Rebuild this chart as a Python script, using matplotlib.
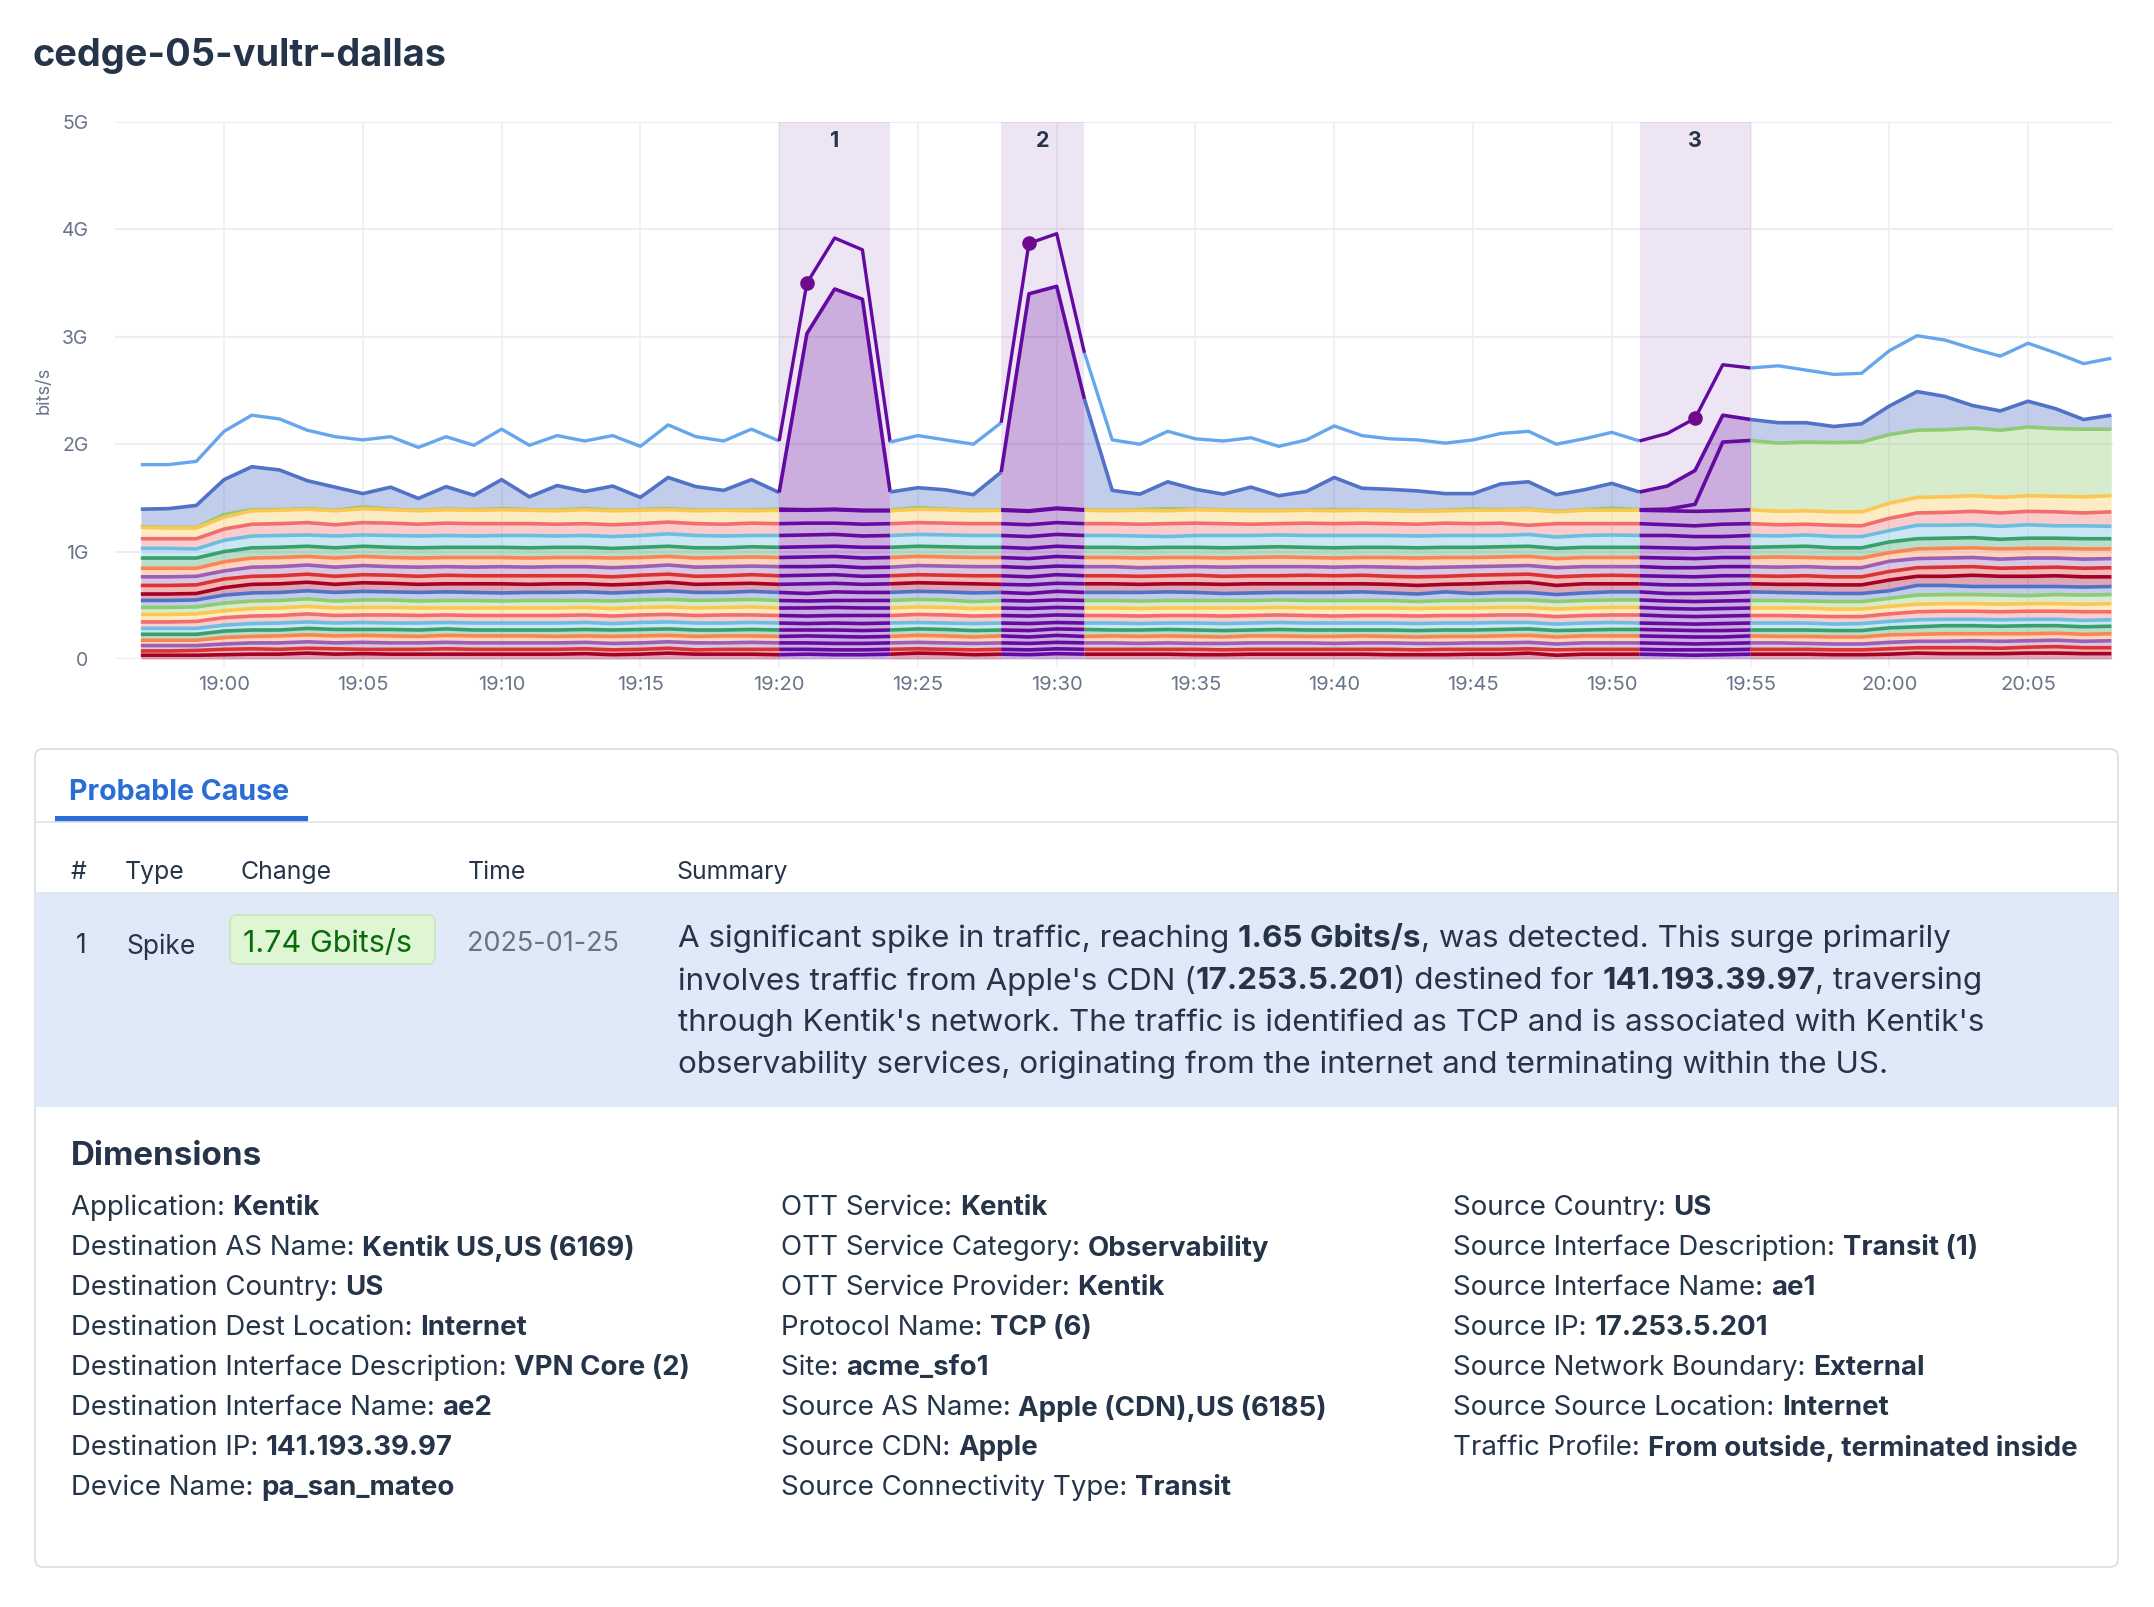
import numpy as np
import matplotlib
matplotlib.use("Agg")
import matplotlib.pyplot as plt
from matplotlib.patches import FancyBboxPatch, Rectangle

plt.rcParams['font.family'] = ['Inter', 'DejaVu Sans']

# minutes relative to 19:00, one point per minute from 18:57 to 20:08
minutes = np.arange(-3, 69)
tick_minutes = [0, 5, 10, 15, 20, 25, 30, 35, 40, 45, 50, 55, 60, 65]
tick_labels = ['19:00', '19:05', '19:10', '19:15', '19:20', '19:25', '19:30',
               '19:35', '19:40', '19:45', '19:50', '19:55', '20:00', '20:05']
y_ticks = [0, 1, 2, 3, 4, 5]
y_labels = ['0', '1G', '2G', '3G', '4G', '5G']

# highlighted anomalies, (start, end) in minutes
windows = [(20, 24), (28, 31), (51, 55)]
window_labels = ['1', '2', '3']
dot_minutes = [21, 29, 53]

# upper line, not stacked
total = [1.81,1.81,1.84,2.12,2.27,2.235,2.13,2.07,2.04,2.07,1.97,2.07,1.99,2.14,1.99,2.08,2.03,2.08,1.98,2.18,2.07,2.03,2.14,2.03,
         3.50,3.92,3.81,2.02,2.08,2.04,2.00,2.20,3.87,3.96,2.85,2.04,2.00,2.12,2.05,2.03,2.06,1.98,2.04,2.17,2.08,2.05,2.04,2.01,
         2.04,2.10,2.12,2.00,2.05,2.11,2.03,2.10,2.24,2.74,2.71,2.73,2.69,2.65,2.66,2.87,3.01,2.97,2.89,2.82,2.94,2.85,2.75,2.80]

# stacked lines, top of each band
top_blue = [1.395,1.40,1.43,1.67,1.79,1.76,1.66,1.60,1.54,1.60,1.495,1.605,1.525,1.67,1.51,1.615,1.56,1.61,1.505,1.69,1.605,1.57,1.67,1.55,
            3.03,3.445,3.35,1.555,1.595,1.575,1.53,1.74,3.40,3.47,2.42,1.57,1.535,1.65,1.58,1.535,1.60,1.52,1.56,1.69,1.59,1.58,1.565,1.54,
            1.54,1.63,1.65,1.53,1.575,1.635,1.555,1.61,1.755,2.27,2.23,2.20,2.20,2.165,2.19,2.355,2.49,2.445,2.36,2.31,2.40,2.33,2.23,2.27]
top_green = [1.23,1.225,1.225,1.345,1.39,1.39,1.40,1.385,1.415,1.395,1.385,1.395,1.39,1.40,1.39,1.385,1.40,1.385,1.39,1.40,1.385,1.39,1.385,1.395,
             1.39,1.395,1.385,1.385,1.41,1.395,1.385,1.39,1.38,1.405,1.39,1.385,1.39,1.40,1.395,1.39,1.385,1.385,1.39,1.39,1.39,1.385,1.38,1.385,
             1.395,1.39,1.395,1.375,1.39,1.405,1.39,1.395,1.44,2.02,2.035,2.01,2.02,2.015,2.02,2.09,2.13,2.135,2.15,2.13,2.16,2.145,2.14,2.14]
yellow_a = [1.225,1.22,1.22,1.32,1.38,1.385,1.395,1.38,1.40,1.39,1.38,1.39,1.385,1.39,1.385,1.38,1.39,1.38,1.385,1.39,1.38,1.385,1.38,1.385,
            1.385,1.39,1.38,1.38,1.395,1.39,1.38,1.385,1.375,1.40,1.385,1.38,1.385,1.38,1.39,1.385,1.38,1.38,1.385,1.38,1.385,1.38,1.375,1.38,
            1.385,1.385,1.39,1.37,1.385,1.385,1.385,1.38,1.375,1.38,1.39,1.375,1.38,1.37,1.37,1.45,1.505,1.51,1.52,1.505,1.52,1.515,1.51,1.52]
salmon_a = [1.12,1.12,1.12,1.21,1.255,1.26,1.27,1.25,1.27,1.265,1.255,1.265,1.26,1.26,1.26,1.255,1.26,1.25,1.26,1.275,1.26,1.255,1.265,1.26,
            1.265,1.265,1.255,1.26,1.27,1.265,1.26,1.26,1.25,1.27,1.26,1.26,1.255,1.26,1.265,1.26,1.255,1.26,1.265,1.26,1.265,1.26,1.255,1.265,
            1.26,1.265,1.245,1.26,1.26,1.26,1.26,1.25,1.24,1.255,1.26,1.25,1.255,1.245,1.24,1.31,1.36,1.365,1.375,1.36,1.375,1.37,1.36,1.37]
sky_a = [1.03,1.03,1.025,1.105,1.145,1.15,1.155,1.145,1.155,1.15,1.145,1.15,1.145,1.15,1.15,1.145,1.15,1.14,1.15,1.165,1.15,1.145,1.15,1.15,
         1.155,1.16,1.145,1.15,1.16,1.155,1.15,1.15,1.14,1.16,1.15,1.15,1.145,1.14,1.15,1.15,1.15,1.155,1.15,1.15,1.15,1.15,1.145,1.15,
         1.15,1.15,1.16,1.135,1.15,1.155,1.15,1.15,1.14,1.14,1.15,1.145,1.155,1.14,1.14,1.195,1.245,1.245,1.25,1.235,1.25,1.24,1.24,1.235]
teal_a = [.94,.94,.94,1.0,1.035,1.04,1.05,1.035,1.05,1.04,1.035,1.04,1.04,1.04,1.035,1.04,1.04,1.03,1.04,1.05,1.035,1.035,1.045,1.04,
          1.045,1.05,1.04,1.04,1.05,1.045,1.04,1.04,1.03,1.05,1.04,1.04,1.035,1.04,1.04,1.035,1.04,1.045,1.04,1.035,1.04,1.04,1.035,1.04,
          1.04,1.045,1.05,1.03,1.04,1.04,1.04,1.035,1.03,1.04,1.04,1.045,1.05,1.035,1.035,1.09,1.12,1.125,1.13,1.115,1.125,1.125,1.12,1.12]
orange_a = [.845,.845,.845,.905,.94,.945,.955,.94,.955,.945,.94,.945,.945,.945,.94,.945,.945,.94,.945,.955,.94,.945,.95,.945,
            .95,.955,.94,.945,.955,.95,.945,.945,.935,.955,.945,.945,.94,.945,.945,.94,.945,.95,.945,.94,.945,.945,.94,.945,
            .945,.95,.955,.935,.945,.945,.945,.94,.935,.945,.945,.95,.945,.94,.94,.99,1.025,1.03,1.035,1.025,1.03,1.03,1.025,1.025]
purple_a = [.765,.765,.77,.82,.855,.86,.875,.855,.87,.86,.855,.86,.855,.86,.855,.86,.86,.85,.86,.875,.855,.86,.865,.86,
            .86,.865,.85,.855,.87,.865,.86,.86,.85,.865,.86,.86,.85,.855,.86,.855,.86,.86,.86,.855,.86,.855,.85,.855,
            .86,.865,.87,.85,.86,.86,.86,.85,.85,.86,.86,.855,.86,.85,.85,.91,.935,.94,.945,.93,.94,.94,.93,.935]
red_a = [.685,.685,.69,.745,.77,.775,.79,.77,.785,.78,.77,.78,.775,.775,.775,.775,.775,.765,.78,.79,.77,.775,.785,.775,
         .78,.785,.77,.775,.785,.78,.775,.775,.765,.785,.775,.775,.77,.775,.78,.77,.775,.775,.78,.775,.78,.77,.765,.77,
         .78,.785,.79,.765,.775,.78,.775,.77,.765,.775,.775,.77,.775,.765,.765,.815,.85,.855,.86,.845,.85,.855,.845,.85]
wine_a = [.605,.605,.61,.665,.695,.70,.715,.695,.71,.705,.695,.70,.70,.70,.695,.70,.70,.69,.70,.715,.695,.70,.705,.695,
          .70,.705,.695,.70,.71,.705,.70,.695,.69,.705,.70,.70,.695,.70,.70,.695,.70,.70,.70,.70,.70,.695,.685,.695,
          .70,.71,.715,.685,.70,.70,.70,.69,.69,.695,.70,.695,.695,.69,.69,.735,.77,.77,.78,.77,.77,.775,.765,.765]
blue_b = [.545,.545,.55,.595,.615,.62,.635,.62,.63,.625,.62,.625,.62,.615,.62,.62,.625,.615,.625,.635,.62,.62,.63,.62,
          .61,.625,.62,.62,.63,.625,.615,.62,.61,.63,.62,.62,.62,.625,.62,.61,.615,.62,.62,.62,.625,.615,.605,.625,
          .61,.62,.62,.60,.615,.625,.625,.61,.61,.615,.625,.62,.615,.61,.61,.635,.685,.685,.675,.675,.675,.675,.67,.675]
green_b = [.48,.48,.485,.52,.54,.545,.56,.54,.55,.55,.54,.545,.545,.54,.545,.545,.545,.54,.55,.555,.545,.55,.555,.545,
           .54,.545,.545,.545,.555,.55,.535,.545,.54,.55,.545,.545,.54,.545,.545,.545,.545,.55,.545,.545,.545,.545,.535,.545,
           .545,.55,.55,.535,.545,.55,.55,.54,.535,.54,.545,.545,.54,.535,.535,.565,.595,.60,.60,.595,.59,.60,.595,.60]
yellow_b = [.415,.415,.42,.45,.47,.475,.49,.475,.48,.48,.475,.475,.475,.475,.475,.475,.48,.47,.48,.485,.475,.48,.485,.475,
            .475,.48,.475,.475,.485,.48,.47,.475,.47,.48,.475,.475,.47,.475,.475,.475,.475,.48,.475,.475,.475,.475,.47,.475,
            .475,.48,.48,.465,.475,.48,.48,.47,.465,.47,.475,.475,.475,.465,.465,.49,.51,.515,.515,.51,.515,.515,.51,.515]
salmon_b = [.345,.345,.35,.385,.40,.405,.42,.405,.41,.41,.405,.41,.405,.405,.405,.405,.41,.40,.41,.415,.405,.41,.41,.405,
            .40,.405,.405,.405,.415,.41,.40,.405,.40,.41,.405,.405,.40,.405,.405,.40,.405,.41,.405,.40,.405,.405,.40,.405,
            .405,.41,.41,.395,.405,.41,.41,.40,.395,.40,.405,.405,.40,.395,.395,.42,.44,.445,.445,.44,.445,.445,.44,.44]
sky_b = [.285,.285,.285,.315,.33,.335,.345,.335,.34,.335,.335,.34,.335,.335,.335,.335,.34,.33,.34,.345,.335,.335,.34,.335,
         .33,.335,.33,.335,.34,.335,.33,.335,.33,.34,.335,.335,.33,.335,.335,.33,.335,.34,.335,.335,.335,.335,.33,.335,
         .335,.34,.34,.325,.335,.34,.335,.33,.325,.33,.335,.335,.335,.325,.33,.35,.365,.37,.37,.365,.37,.37,.36,.365]
teal_b = [.23,.23,.23,.26,.27,.27,.285,.275,.275,.275,.27,.28,.27,.27,.27,.27,.275,.27,.275,.28,.27,.27,.275,.27,
          .27,.27,.265,.27,.28,.275,.265,.27,.265,.28,.275,.27,.27,.275,.27,.265,.27,.275,.27,.27,.27,.27,.265,.27,
          .27,.275,.28,.265,.27,.275,.275,.27,.265,.265,.27,.27,.27,.265,.265,.29,.30,.31,.31,.305,.31,.31,.30,.305]
orange_b = [.175,.175,.175,.20,.21,.215,.225,.215,.22,.215,.21,.22,.215,.215,.215,.21,.215,.21,.215,.22,.21,.215,.215,.21,
            .215,.21,.205,.21,.22,.215,.205,.215,.205,.22,.21,.215,.21,.215,.21,.205,.215,.215,.21,.21,.215,.21,.205,.21,
            .21,.215,.22,.205,.215,.215,.215,.21,.205,.205,.215,.21,.21,.205,.205,.225,.23,.235,.235,.235,.235,.24,.23,.235]
purple_b = [.125,.125,.125,.14,.15,.15,.16,.15,.155,.15,.15,.155,.15,.15,.15,.15,.155,.145,.15,.16,.15,.15,.155,.15,
            .15,.145,.145,.15,.155,.15,.145,.15,.145,.155,.15,.15,.145,.15,.145,.145,.15,.15,.15,.145,.15,.15,.145,.145,
            .15,.15,.155,.14,.15,.15,.15,.145,.14,.145,.15,.15,.145,.14,.14,.155,.165,.165,.17,.165,.17,.175,.165,.17]
red_b = [.075,.075,.08,.09,.095,.09,.10,.095,.09,.09,.09,.095,.09,.09,.09,.09,.095,.085,.09,.10,.085,.09,.09,.09,
         .09,.085,.085,.09,.095,.09,.085,.09,.085,.095,.09,.09,.09,.09,.09,.085,.09,.09,.09,.09,.09,.09,.085,.09,
         .09,.09,.095,.085,.09,.09,.09,.085,.085,.085,.09,.09,.09,.085,.085,.095,.105,.105,.105,.10,.11,.115,.105,.105]
wine_b = [.035,.035,.035,.04,.045,.045,.055,.045,.05,.045,.045,.045,.045,.045,.045,.045,.05,.04,.045,.055,.045,.045,.045,.04,
          .045,.04,.04,.045,.055,.05,.04,.045,.04,.05,.045,.045,.045,.045,.04,.04,.045,.045,.045,.045,.045,.04,.04,.04,
          .045,.045,.055,.035,.045,.045,.045,.04,.035,.04,.045,.045,.045,.04,.04,.045,.055,.05,.05,.05,.055,.055,.05,.05]

# bottom to top, same order as the stack
stack = [wine_b, red_b, purple_b, orange_b, teal_b, sky_b, salmon_b, yellow_b, green_b, blue_b,
         wine_a, red_a, purple_a, orange_a, teal_a, sky_a, salmon_a, yellow_a, top_green, top_blue]

C_WINE, C_RED, C_PURPLE, C_ORANGE, C_TEAL = '#a50026', '#dc3232', '#9a60b4', '#fb8550', '#38a06b'
C_SKY, C_SALMON, C_YELLOW, C_GREEN, C_BLUE = '#6dbde0', '#f26d6d', '#fcc653', '#8fcb72', '#5272c8'
stack_colors = [C_WINE, C_RED, C_PURPLE, C_ORANGE, C_TEAL, C_SKY, C_SALMON, C_YELLOW, C_GREEN, C_BLUE,
                C_WINE, C_RED, C_PURPLE, C_ORANGE, C_TEAL, C_SKY, C_SALMON, C_YELLOW, C_GREEN, C_BLUE]
C_TOTAL = '#66a6ea'
C_HILITE = '#640aa0'
C_DOT = '#6f0a8f'
C_GRID = '#eceef1'
C_TEXT = '#26344a'
C_TICK = '#68748a'

W, H = 2154, 1607
fig = plt.figure(figsize=(W / 100, H / 100), dpi=100, facecolor='white')

# chart axes, placed in pixels
L, R, T, B = 115, 2113, 122, 659
ax = fig.add_axes([L / W, 1 - B / H, (R - L) / W, (B - T) / H])
ax.set_xlim(-3.93, 68.06)
ax.set_ylim(0, 5)
for s in ax.spines.values():
    s.set_visible(False)
ax.set_xticks(tick_minutes, tick_labels)
ax.set_yticks(y_ticks, y_labels)
ax.tick_params(axis='x', length=6, color=C_GRID, width=1.1, labelsize=14.5, labelcolor=C_TICK, pad=6)
ax.tick_params(axis='y', length=0, labelsize=14, labelcolor=C_TICK, pad=19)
ax.grid(axis='y', color=C_GRID, lw=1.5, zorder=0)
ax.grid(axis='x', color=C_GRID, lw=1.1, zorder=0)
ax.set_axisbelow(True)
ax.set_ylabel('bits/s', fontsize=13.2, color=C_TICK)
ax.yaxis.set_label_coords(-0.031, 0.5)

for (a, b), lab in zip(windows, window_labels):
    ax.axvspan(a, b, facecolor=C_HILITE, edgecolor='none', alpha=0.105, zorder=1)
    ax.text((a + b) / 2, 4.82, lab, ha='center', va='center', fontsize=15.5,
            fontweight='bold', color=C_TEXT, zorder=8)


def in_window(start):
    return any(a <= start < b for a, b in windows)


# cut points where the series changes between normal and highlighted colour
cuts = [minutes[0]] + [m for w in windows for m in w] + [minutes[-1]]


def draw_line(values, color, z, lw):
    values = np.asarray(values)
    for s, e in zip(cuts[:-1], cuts[1:]):
        mask = (minutes >= s) & (minutes <= e)
        c = C_HILITE if in_window(s) else color
        ax.plot(minutes[mask], values[mask], color=c, lw=lw, solid_capstyle='butt',
                solid_joinstyle='round', zorder=z)


lower = np.zeros(len(minutes))
for values, color in zip(stack, stack_colors):
    values = np.asarray(values)
    for s, e in zip(cuts[:-1], cuts[1:]):
        mask = (minutes >= s) & (minutes <= e)
        if in_window(s):
            ax.fill_between(minutes[mask], lower[mask], values[mask], color=C_HILITE,
                            alpha=0.25, lw=0, zorder=2)
        else:
            ax.fill_between(minutes[mask], lower[mask], values[mask], color=color,
                            alpha=0.35, lw=0, zorder=2)
    lower = values

# top lines first, so yellow ends up over the green it nearly touches
for values, color in zip(stack[::-1], stack_colors[::-1]):
    draw_line(values, color, 3, 2.6)
draw_line(total, C_TOTAL, 3, 2.4)

total_arr = np.asarray(total)
dot_x = np.asarray(dot_minutes)
ax.plot(dot_x, total_arr[dot_x - minutes[0]], 'o', ms=10.5, color=C_DOT, mew=0, zorder=6)

# everything below the chart is laid out in pixels on a full figure overlay
ov = fig.add_axes([0, 0, 1, 1], zorder=-1)
ov.set_xlim(0, W)
ov.set_ylim(H, 0)
ov.axis('off')

panel_left, panel_right, panel_top, panel_bottom = 35, 2118, 749, 1567
ov.add_patch(FancyBboxPatch((panel_left, panel_top), panel_right - panel_left, panel_bottom - panel_top,
                            boxstyle='round,pad=0,rounding_size=8', fc='white', ec='#dcdfe4', lw=1.3))
ov.plot([panel_left, panel_right], [822, 822], color='#e0e3e7', lw=1.2)
ov.add_patch(Rectangle((55, 816), 253, 6, fc='#2a6dd6', ec='none'))
ov.add_patch(Rectangle((panel_left, 893), panel_right - panel_left, 214, fc='#e0e9f8', ec='none'))
ov.plot([panel_left, panel_right], [893, 893], color='#dfe3e8', lw=1.2)
ov.add_patch(FancyBboxPatch((230, 915), 205, 49, boxstyle='round,pad=0,rounding_size=7',
                            fc='#def6d4', ec='#c6e6bd', lw=1.2))

fig.text(32 / W, 1 - 56 / H, 'cedge-05-vultr-dallas', fontsize=27.3, fontweight='bold',
         color='#26344a', va='center')


def put(x, y, s, size, color=C_TEXT, weight='normal'):
    return ov.text(x, y, s, fontsize=size, color=color, fontweight=weight, va='center_baseline')


put(69, 789, 'Probable Cause', 20.6, '#2a6dd6', 'bold')

for x, s in zip([71, 125, 240, 468, 676], ['#', 'Type', 'Change', 'Time', 'Summary']):
    put(x, 870, s, 17.9)

put(76, 943, '1', 19)
put(126, 944, 'Spike', 19)
put(243, 941, '1.74 Gbits/s', 22, '#0b6b0b')
put(467, 941, '2025-01-25', 19.5, '#6b7280')


def width_of(s, size, weight):
    # the dot keeps trailing spaces from being dropped out of the measure
    r = fig.canvas.get_renderer()
    t1 = ov.text(0, 0, s + '.', fontsize=size, fontweight=weight)
    t2 = ov.text(0, 0, '.', fontsize=size, fontweight=weight)
    w = t1.get_window_extent(r).width - t2.get_window_extent(r).width
    t1.remove()
    t2.remove()
    return w


def put_runs(x, y, runs, size):
    for s, weight in runs:
        put(x, y, s, size, C_TEXT, weight)
        x += width_of(s, size, weight)


summary_lines = [
    [('A significant spike in traffic, reaching ', 'normal'), ('1.65 Gbits/s', 'bold'),
     (', was detected. This surge primarily', 'normal')],
    [("involves traffic from Apple's CDN (", 'normal'), ('17.253.5.201', 'bold'),
     (') destined for ', 'normal'), ('141.193.39.97', 'bold'), (', traversing', 'normal')],
    [("through Kentik's network. The traffic is identified as TCP and is associated with Kentik's", 'normal')],
    [('observability services, originating from the internet and terminating within the US.', 'normal')],
]
summary_y = [936, 978, 1020, 1062]
for y, runs in zip(summary_y, summary_lines):
    put_runs(678, y, runs, 22.6)

put(71, 1153, 'Dimensions', 23.9, C_TEXT, 'bold')

dim_col1 = [('Application: ', 'Kentik'), ('Destination AS Name: ', 'Kentik US,US (6169)'),
            ('Destination Country: ', 'US'), ('Destination Dest Location: ', 'Internet'),
            ('Destination Interface Description: ', 'VPN Core (2)'), ('Destination Interface Name: ', 'ae2'),
            ('Destination IP: ', '141.193.39.97'), ('Device Name: ', 'pa_san_mateo')]
dim_col2 = [('OTT Service: ', 'Kentik'), ('OTT Service Category: ', 'Observability'),
            ('OTT Service Provider: ', 'Kentik'), ('Protocol Name: ', 'TCP (6)'), ('Site: ', 'acme_sfo1'),
            ('Source AS Name: ', 'Apple (CDN),US (6185)'), ('Source CDN: ', 'Apple'),
            ('Source Connectivity Type: ', 'Transit')]
dim_col3 = [('Source Country: ', 'US'), ('Source Interface Description: ', 'Transit (1)'),
            ('Source Interface Name: ', 'ae1'), ('Source IP: ', '17.253.5.201'),
            ('Source Network Boundary: ', 'External'), ('Source Source Location: ', 'Internet'),
            ('Traffic Profile: ', 'From outside, terminated inside')]
dim_y = [1205, 1245, 1285, 1325, 1365, 1405, 1445, 1485]
for col_x, col in zip([71, 781, 1453], [dim_col1, dim_col2, dim_col3]):
    for y, (name, val) in zip(dim_y, col):
        put_runs(col_x, y, [(name, 'normal'), (val, 'bold')], 19.9)

fig.savefig('out.png', dpi=100)
